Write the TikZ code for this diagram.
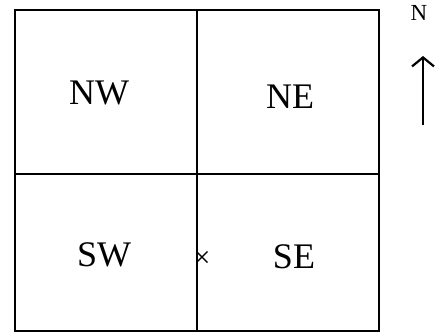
\documentclass[tikz,border=0pt]{standalone}
\usepackage{fontspec}
\setmainfont{Liberation Serif}
\usetikzlibrary{arrows.meta}
\begin{document}
\begin{tikzpicture}[x=1pt,y=-1pt,
  lbl/.style={font=\fontsize{36}{36}\selectfont, inner sep=0pt},
]
\useasboundingbox (0,0) rectangle (441,333);
\fill[white] (0,0) rectangle (441,333);
\draw[line width=2.2pt] (15,10) rectangle (379,331);
\draw[line width=2.2pt] (197,10) -- (197,331);
\draw[line width=2.2pt] (15,174) -- (379,174);
\node[lbl] (nw) at (99,93) {NW};
\node[lbl] (ne) at (290,97) {NE};
\node[lbl] (sw) at (104,255) {SW};
\node[lbl] (se) at (294,257) {SE};
\node[inner sep=0pt, font=\fontsize{30}{30}\selectfont] (x) at (202,259) {×};
\node[inner sep=0pt, font=\fontsize{23}{23}\selectfont] (n) at (419,13) {N};
\coordinate (a0) at (423,125);
\coordinate (a1) at (423,56);
\draw[line width=2.2pt, -{Straight Barb[length=9pt,width=22pt]}] (a0) -- (a1);
\end{tikzpicture}
\end{document}
